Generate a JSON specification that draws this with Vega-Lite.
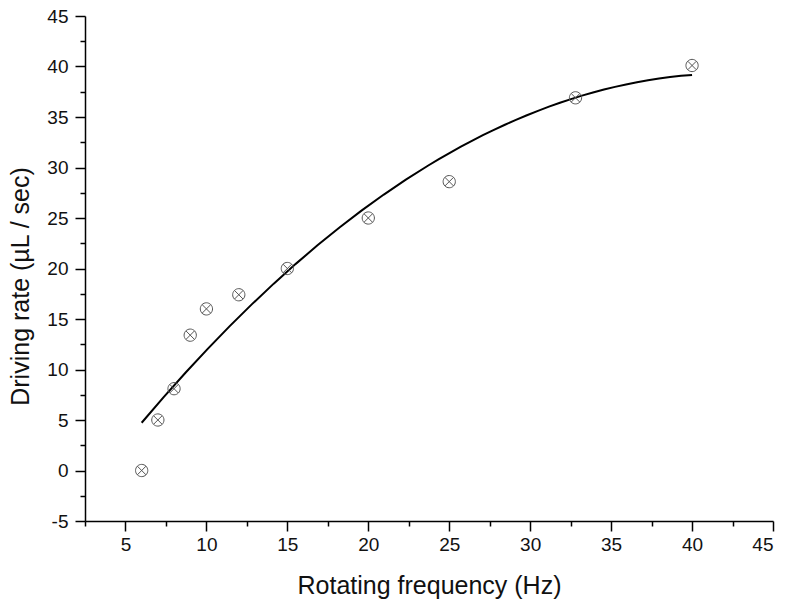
{
  "$schema": "https://vega.github.io/schema/vega-lite/v6.json",
  "width": 688,
  "height": 505,
  "autosize": {"type": "none"},
  "padding": {"left": 85, "top": 16, "right": 12, "bottom": 84},
  "background": "white",
  "config": {
    "view": {"stroke": null},
    "axis": {
      "labelFont": "Liberation Sans",
      "titleFont": "Liberation Sans",
      "labelFontSize": 19,
      "titleFontSize": 25,
      "titleFontWeight": "normal",
      "labelColor": "#111111",
      "titleColor": "#111111",
      "domainColor": "#000000",
      "tickColor": "#000000",
      "domainWidth": 1.5,
      "tickWidth": 1.5,
      "grid": false
    }
  },
  "data": {
    "values": [
      {"freq": 6, "rate": 0},
      {"freq": 7, "rate": 5},
      {"freq": 8, "rate": 8.1},
      {"freq": 9, "rate": 13.4},
      {"freq": 10, "rate": 16},
      {"freq": 12, "rate": 17.4},
      {"freq": 15, "rate": 20},
      {"freq": 20, "rate": 25},
      {"freq": 25, "rate": 28.6},
      {"freq": 32.8, "rate": 36.9},
      {"freq": 40, "rate": 40.1}
    ]
  },
  "layer": [
    {
      "transform": [{"regression": "rate", "on": "freq", "method": "poly", "order": 2}],
      "mark": {"type": "line", "color": "#000000", "strokeWidth": 2},
      "encoding": {
        "x": {
          "field": "freq", "type": "quantitative",
          "scale": {"domain": [2.5, 45], "nice": false, "zero": false},
          "axis": {"orient": "bottom", "values": [2.5, 7.5, 12.5, 17.5, 22.5, 27.5, 32.5, 37.5, 42.5], "labels": false, "domain": false, "tickSize": 5, "title": null}
        },
        "y": {
          "field": "rate", "type": "quantitative",
          "scale": {"domain": [-5, 45], "nice": false, "zero": false},
          "axis": {"orient": "left", "values": [-2.5, 2.5, 7.5, 12.5, 17.5, 22.5, 27.5, 32.5, 37.5, 42.5], "labels": false, "domain": false, "tickSize": 5, "title": null}
        }
      }
    },
    {
      "mark": {
        "type": "point",
        "shape": "M-1,0A1,1,0,1,1,1,0A1,1,0,1,1,-1,0ZM-0.7071,-0.7071L0.7071,0.7071M-0.7071,0.7071L0.7071,-0.7071",
        "filled": false,
        "color": "#555555",
        "strokeWidth": 1,
        "size": 150,
        "opacity": 1
      },
      "encoding": {
        "x": {
          "field": "freq", "type": "quantitative",
          "scale": {"domain": [2.5, 45], "nice": false, "zero": false},
          "axis": {"orient": "bottom", "values": [5, 10, 15, 20, 25, 30, 35, 40, 45], "tickSize": 10, "labelPadding": 4, "title": "Rotating frequency (Hz)", "titlePadding": 19}
        },
        "y": {
          "field": "rate", "type": "quantitative",
          "scale": {"domain": [-5, 45], "nice": false, "zero": false},
          "axis": {"orient": "left", "values": [-5, 0, 5, 10, 15, 20, 25, 30, 35, 40, 45], "labelExpr": "'' + datum.value", "tickSize": 10, "labelPadding": 7, "title": "Driving rate (µL / sec)", "titlePadding": 13, "titleY": 270}
        }
      }
    }
  ],
  "resolve": {"axis": {"x": "independent", "y": "independent"}}
}
